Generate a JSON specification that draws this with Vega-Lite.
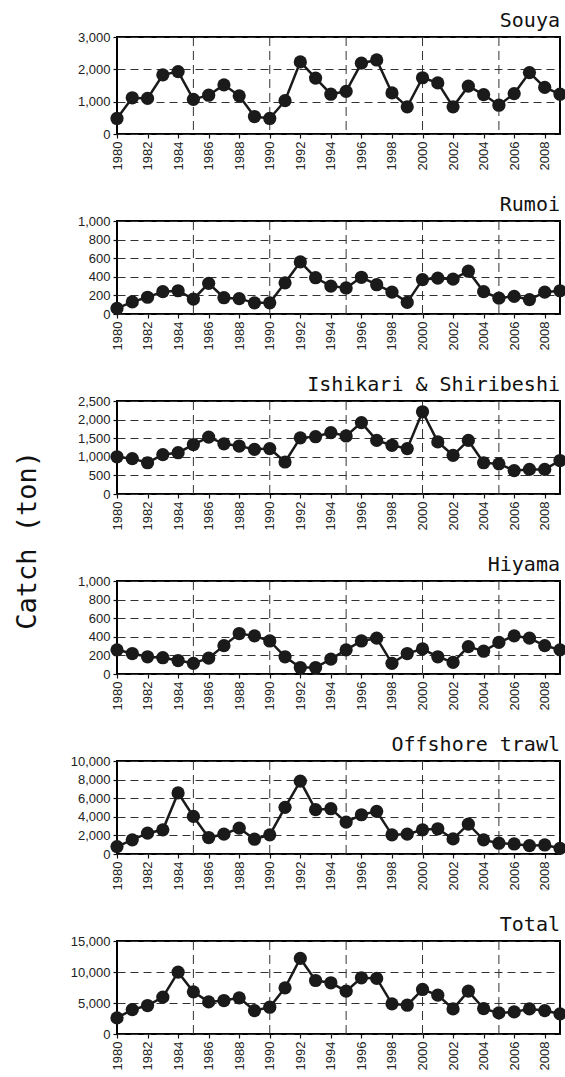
{
  "$schema": "https://vega.github.io/schema/vega-lite/v6.json",
  "padding": {"left": 14, "top": 10, "right": 4, "bottom": 4},
  "background": "white",
  "title": {"text": "Catch (ton)", "orient": "left", "anchor": "middle", "frame": "bounds", "font": "DejaVu Sans Mono", "fontSize": 27, "fontWeight": "normal", "color": "#111", "offset": 27},
  "config": {
    "view": {"stroke": "black", "strokeWidth": 2},
    "title": {"anchor": "end", "font": "DejaVu Sans Mono", "fontSize": 20, "fontWeight": "normal", "color": "#111"},
    "axis": {"labelFont": "Liberation Sans", "labelFontSize": 13, "labelColor": "#222", "domain": false, "tickColor": "#111", "tickSize": 4, "tickWidth": 1.2, "title": null, "gridColor": "#333", "gridDash": [8, 5], "gridWidth": 1, "labelPadding": 3},
    "line": {"color": "#1a1a1a", "strokeWidth": 2.5},
    "point": {"color": "#1a1a1a", "filled": true, "size": 175, "opacity": 1}
  },
  "datasets": {
    "vgrid": [{"year": 1985}, {"year": 1990}, {"year": 1995}, {"year": 2000}, {"year": 2005}],
    "catch": [
      {"region": "Souya", "year": 1980, "catch": 480}, {"region": "Souya", "year": 1981, "catch": 1120}, {"region": "Souya", "year": 1982, "catch": 1100}, {"region": "Souya", "year": 1983, "catch": 1830}, {"region": "Souya", "year": 1984, "catch": 1930}, {"region": "Souya", "year": 1985, "catch": 1070}, {"region": "Souya", "year": 1986, "catch": 1200}, {"region": "Souya", "year": 1987, "catch": 1520}, {"region": "Souya", "year": 1988, "catch": 1180}, {"region": "Souya", "year": 1989, "catch": 540}, {"region": "Souya", "year": 1990, "catch": 480}, {"region": "Souya", "year": 1991, "catch": 1030}, {"region": "Souya", "year": 1992, "catch": 2230}, {"region": "Souya", "year": 1993, "catch": 1730}, {"region": "Souya", "year": 1994, "catch": 1230}, {"region": "Souya", "year": 1995, "catch": 1320}, {"region": "Souya", "year": 1996, "catch": 2190}, {"region": "Souya", "year": 1997, "catch": 2290}, {"region": "Souya", "year": 1998, "catch": 1270}, {"region": "Souya", "year": 1999, "catch": 840}, {"region": "Souya", "year": 2000, "catch": 1740}, {"region": "Souya", "year": 2001, "catch": 1580}, {"region": "Souya", "year": 2002, "catch": 840}, {"region": "Souya", "year": 2003, "catch": 1480}, {"region": "Souya", "year": 2004, "catch": 1220}, {"region": "Souya", "year": 2005, "catch": 890}, {"region": "Souya", "year": 2006, "catch": 1250}, {"region": "Souya", "year": 2007, "catch": 1900}, {"region": "Souya", "year": 2008, "catch": 1440}, {"region": "Souya", "year": 2009, "catch": 1230},
      {"region": "Rumoi", "year": 1980, "catch": 60}, {"region": "Rumoi", "year": 1981, "catch": 130}, {"region": "Rumoi", "year": 1982, "catch": 180}, {"region": "Rumoi", "year": 1983, "catch": 240}, {"region": "Rumoi", "year": 1984, "catch": 250}, {"region": "Rumoi", "year": 1985, "catch": 160}, {"region": "Rumoi", "year": 1986, "catch": 330}, {"region": "Rumoi", "year": 1987, "catch": 175}, {"region": "Rumoi", "year": 1988, "catch": 165}, {"region": "Rumoi", "year": 1989, "catch": 120}, {"region": "Rumoi", "year": 1990, "catch": 120}, {"region": "Rumoi", "year": 1991, "catch": 335}, {"region": "Rumoi", "year": 1992, "catch": 560}, {"region": "Rumoi", "year": 1993, "catch": 390}, {"region": "Rumoi", "year": 1994, "catch": 300}, {"region": "Rumoi", "year": 1995, "catch": 280}, {"region": "Rumoi", "year": 1996, "catch": 395}, {"region": "Rumoi", "year": 1997, "catch": 315}, {"region": "Rumoi", "year": 1998, "catch": 235}, {"region": "Rumoi", "year": 1999, "catch": 125}, {"region": "Rumoi", "year": 2000, "catch": 370}, {"region": "Rumoi", "year": 2001, "catch": 385}, {"region": "Rumoi", "year": 2002, "catch": 375}, {"region": "Rumoi", "year": 2003, "catch": 460}, {"region": "Rumoi", "year": 2004, "catch": 240}, {"region": "Rumoi", "year": 2005, "catch": 170}, {"region": "Rumoi", "year": 2006, "catch": 190}, {"region": "Rumoi", "year": 2007, "catch": 155}, {"region": "Rumoi", "year": 2008, "catch": 235}, {"region": "Rumoi", "year": 2009, "catch": 250},
      {"region": "Ishikari & Shiribeshi", "year": 1980, "catch": 1000}, {"region": "Ishikari & Shiribeshi", "year": 1981, "catch": 950}, {"region": "Ishikari & Shiribeshi", "year": 1982, "catch": 840}, {"region": "Ishikari & Shiribeshi", "year": 1983, "catch": 1060}, {"region": "Ishikari & Shiribeshi", "year": 1984, "catch": 1110}, {"region": "Ishikari & Shiribeshi", "year": 1985, "catch": 1330}, {"region": "Ishikari & Shiribeshi", "year": 1986, "catch": 1530}, {"region": "Ishikari & Shiribeshi", "year": 1987, "catch": 1350}, {"region": "Ishikari & Shiribeshi", "year": 1988, "catch": 1290}, {"region": "Ishikari & Shiribeshi", "year": 1989, "catch": 1200}, {"region": "Ishikari & Shiribeshi", "year": 1990, "catch": 1220}, {"region": "Ishikari & Shiribeshi", "year": 1991, "catch": 860}, {"region": "Ishikari & Shiribeshi", "year": 1992, "catch": 1510}, {"region": "Ishikari & Shiribeshi", "year": 1993, "catch": 1540}, {"region": "Ishikari & Shiribeshi", "year": 1994, "catch": 1650}, {"region": "Ishikari & Shiribeshi", "year": 1995, "catch": 1560}, {"region": "Ishikari & Shiribeshi", "year": 1996, "catch": 1920}, {"region": "Ishikari & Shiribeshi", "year": 1997, "catch": 1440}, {"region": "Ishikari & Shiribeshi", "year": 1998, "catch": 1310}, {"region": "Ishikari & Shiribeshi", "year": 1999, "catch": 1220}, {"region": "Ishikari & Shiribeshi", "year": 2000, "catch": 2210}, {"region": "Ishikari & Shiribeshi", "year": 2001, "catch": 1400}, {"region": "Ishikari & Shiribeshi", "year": 2002, "catch": 1040}, {"region": "Ishikari & Shiribeshi", "year": 2003, "catch": 1440}, {"region": "Ishikari & Shiribeshi", "year": 2004, "catch": 840}, {"region": "Ishikari & Shiribeshi", "year": 2005, "catch": 810}, {"region": "Ishikari & Shiribeshi", "year": 2006, "catch": 630}, {"region": "Ishikari & Shiribeshi", "year": 2007, "catch": 660}, {"region": "Ishikari & Shiribeshi", "year": 2008, "catch": 660}, {"region": "Ishikari & Shiribeshi", "year": 2009, "catch": 900},
      {"region": "Hiyama", "year": 1980, "catch": 260}, {"region": "Hiyama", "year": 1981, "catch": 220}, {"region": "Hiyama", "year": 1982, "catch": 185}, {"region": "Hiyama", "year": 1983, "catch": 175}, {"region": "Hiyama", "year": 1984, "catch": 145}, {"region": "Hiyama", "year": 1985, "catch": 115}, {"region": "Hiyama", "year": 1986, "catch": 170}, {"region": "Hiyama", "year": 1987, "catch": 305}, {"region": "Hiyama", "year": 1988, "catch": 435}, {"region": "Hiyama", "year": 1989, "catch": 410}, {"region": "Hiyama", "year": 1990, "catch": 355}, {"region": "Hiyama", "year": 1991, "catch": 185}, {"region": "Hiyama", "year": 1992, "catch": 70}, {"region": "Hiyama", "year": 1993, "catch": 70}, {"region": "Hiyama", "year": 1994, "catch": 160}, {"region": "Hiyama", "year": 1995, "catch": 260}, {"region": "Hiyama", "year": 1996, "catch": 355}, {"region": "Hiyama", "year": 1997, "catch": 385}, {"region": "Hiyama", "year": 1998, "catch": 115}, {"region": "Hiyama", "year": 1999, "catch": 220}, {"region": "Hiyama", "year": 2000, "catch": 270}, {"region": "Hiyama", "year": 2001, "catch": 185}, {"region": "Hiyama", "year": 2002, "catch": 125}, {"region": "Hiyama", "year": 2003, "catch": 295}, {"region": "Hiyama", "year": 2004, "catch": 245}, {"region": "Hiyama", "year": 2005, "catch": 340}, {"region": "Hiyama", "year": 2006, "catch": 410}, {"region": "Hiyama", "year": 2007, "catch": 385}, {"region": "Hiyama", "year": 2008, "catch": 305}, {"region": "Hiyama", "year": 2009, "catch": 260},
      {"region": "Offshore trawl", "year": 1980, "catch": 800}, {"region": "Offshore trawl", "year": 1981, "catch": 1520}, {"region": "Offshore trawl", "year": 1982, "catch": 2240}, {"region": "Offshore trawl", "year": 1983, "catch": 2600}, {"region": "Offshore trawl", "year": 1984, "catch": 6570}, {"region": "Offshore trawl", "year": 1985, "catch": 4040}, {"region": "Offshore trawl", "year": 1986, "catch": 1770}, {"region": "Offshore trawl", "year": 1987, "catch": 2130}, {"region": "Offshore trawl", "year": 1988, "catch": 2780}, {"region": "Offshore trawl", "year": 1989, "catch": 1590}, {"region": "Offshore trawl", "year": 1990, "catch": 2060}, {"region": "Offshore trawl", "year": 1991, "catch": 5020}, {"region": "Offshore trawl", "year": 1992, "catch": 7830}, {"region": "Offshore trawl", "year": 1993, "catch": 4770}, {"region": "Offshore trawl", "year": 1994, "catch": 4870}, {"region": "Offshore trawl", "year": 1995, "catch": 3430}, {"region": "Offshore trawl", "year": 1996, "catch": 4220}, {"region": "Offshore trawl", "year": 1997, "catch": 4590}, {"region": "Offshore trawl", "year": 1998, "catch": 2060}, {"region": "Offshore trawl", "year": 1999, "catch": 2130}, {"region": "Offshore trawl", "year": 2000, "catch": 2600}, {"region": "Offshore trawl", "year": 2001, "catch": 2710}, {"region": "Offshore trawl", "year": 2002, "catch": 1620}, {"region": "Offshore trawl", "year": 2003, "catch": 3210}, {"region": "Offshore trawl", "year": 2004, "catch": 1520}, {"region": "Offshore trawl", "year": 2005, "catch": 1160}, {"region": "Offshore trawl", "year": 2006, "catch": 1080}, {"region": "Offshore trawl", "year": 2007, "catch": 900}, {"region": "Offshore trawl", "year": 2008, "catch": 970}, {"region": "Offshore trawl", "year": 2009, "catch": 610},
      {"region": "Total", "year": 1980, "catch": 2590}, {"region": "Total", "year": 1981, "catch": 3940}, {"region": "Total", "year": 1982, "catch": 4590}, {"region": "Total", "year": 1983, "catch": 5940}, {"region": "Total", "year": 1984, "catch": 9980}, {"region": "Total", "year": 1985, "catch": 6800}, {"region": "Total", "year": 1986, "catch": 5180}, {"region": "Total", "year": 1987, "catch": 5400}, {"region": "Total", "year": 1988, "catch": 5830}, {"region": "Total", "year": 1989, "catch": 3780}, {"region": "Total", "year": 1990, "catch": 4320}, {"region": "Total", "year": 1991, "catch": 7450}, {"region": "Total", "year": 1992, "catch": 12190}, {"region": "Total", "year": 1993, "catch": 8630}, {"region": "Total", "year": 1994, "catch": 8260}, {"region": "Total", "year": 1995, "catch": 6910}, {"region": "Total", "year": 1996, "catch": 9070}, {"region": "Total", "year": 1997, "catch": 8960}, {"region": "Total", "year": 1998, "catch": 4860}, {"region": "Total", "year": 1999, "catch": 4640}, {"region": "Total", "year": 2000, "catch": 7180}, {"region": "Total", "year": 2001, "catch": 6260}, {"region": "Total", "year": 2002, "catch": 4050}, {"region": "Total", "year": 2003, "catch": 6910}, {"region": "Total", "year": 2004, "catch": 4100}, {"region": "Total", "year": 2005, "catch": 3400}, {"region": "Total", "year": 2006, "catch": 3560}, {"region": "Total", "year": 2007, "catch": 4050}, {"region": "Total", "year": 2008, "catch": 3780}, {"region": "Total", "year": 2009, "catch": 3240}
    ]
  },
  "spacing": 23,
  "vconcat": [
    {
      "title": {"text": "Souya", "frame": "group", "offset": 0}, "width": 443, "height": 97,
      "encoding": {"x": {"field": "year", "type": "quantitative", "scale": {"domain": [1980, 2009], "nice": false, "zero": false}, "axis": {"values": [1980,1982,1984,1986,1988,1990,1992,1994,1996,1998,2000,2002,2004,2006,2008], "format": "d", "labelAngle": 270, "grid": false}}},
      "layer": [
        {"data": {"name": "vgrid"}, "mark": {"type": "rule", "strokeDash": [9, 5], "color": "#333", "strokeWidth": 1}},
        {"data": {"name": "catch"}, "transform": [{"filter": "datum.region === 'Souya'"}],
         "encoding": {"y": {"field": "catch", "type": "quantitative", "scale": {"domain": [0, 3000], "nice": false}, "axis": {"values": [0, 1000, 2000, 3000], "format": ",d", "grid": true}}},
         "layer": [{"mark": "line"}, {"mark": "point"}]}
      ]
    },
    {
      "title": {"text": "Rumoi", "frame": "group", "offset": 0}, "width": 443, "height": 93,
      "encoding": {"x": {"field": "year", "type": "quantitative", "scale": {"domain": [1980, 2009], "nice": false, "zero": false}, "axis": {"values": [1980,1982,1984,1986,1988,1990,1992,1994,1996,1998,2000,2002,2004,2006,2008], "format": "d", "labelAngle": 270, "grid": false}}},
      "layer": [
        {"data": {"name": "vgrid"}, "mark": {"type": "rule", "strokeDash": [9, 5], "color": "#333", "strokeWidth": 1}},
        {"data": {"name": "catch"}, "transform": [{"filter": "datum.region === 'Rumoi'"}],
         "encoding": {"y": {"field": "catch", "type": "quantitative", "scale": {"domain": [0, 1000], "nice": false}, "axis": {"values": [0, 200, 400, 600, 800, 1000], "format": ",d", "grid": true}}},
         "layer": [{"mark": "line"}, {"mark": "point"}]}
      ]
    },
    {
      "title": {"text": "Ishikari & Shiribeshi", "frame": "group", "offset": 0}, "width": 443, "height": 93,
      "encoding": {"x": {"field": "year", "type": "quantitative", "scale": {"domain": [1980, 2009], "nice": false, "zero": false}, "axis": {"values": [1980,1982,1984,1986,1988,1990,1992,1994,1996,1998,2000,2002,2004,2006,2008], "format": "d", "labelAngle": 270, "grid": false}}},
      "layer": [
        {"data": {"name": "vgrid"}, "mark": {"type": "rule", "strokeDash": [9, 5], "color": "#333", "strokeWidth": 1}},
        {"data": {"name": "catch"}, "transform": [{"filter": "datum.region === 'Ishikari & Shiribeshi'"}],
         "encoding": {"y": {"field": "catch", "type": "quantitative", "scale": {"domain": [0, 2500], "nice": false}, "axis": {"values": [0, 500, 1000, 1500, 2000, 2500], "format": ",d", "grid": true}}},
         "layer": [{"mark": "line"}, {"mark": "point"}]}
      ]
    },
    {
      "title": {"text": "Hiyama", "frame": "group", "offset": 0}, "width": 443, "height": 93,
      "encoding": {"x": {"field": "year", "type": "quantitative", "scale": {"domain": [1980, 2009], "nice": false, "zero": false}, "axis": {"values": [1980,1982,1984,1986,1988,1990,1992,1994,1996,1998,2000,2002,2004,2006,2008], "format": "d", "labelAngle": 270, "grid": false}}},
      "layer": [
        {"data": {"name": "vgrid"}, "mark": {"type": "rule", "strokeDash": [9, 5], "color": "#333", "strokeWidth": 1}},
        {"data": {"name": "catch"}, "transform": [{"filter": "datum.region === 'Hiyama'"}],
         "encoding": {"y": {"field": "catch", "type": "quantitative", "scale": {"domain": [0, 1000], "nice": false}, "axis": {"values": [0, 200, 400, 600, 800, 1000], "format": ",d", "grid": true}}},
         "layer": [{"mark": "line"}, {"mark": "point"}]}
      ]
    },
    {
      "title": {"text": "Offshore trawl", "frame": "group", "offset": 0}, "width": 443, "height": 93,
      "encoding": {"x": {"field": "year", "type": "quantitative", "scale": {"domain": [1980, 2009], "nice": false, "zero": false}, "axis": {"values": [1980,1982,1984,1986,1988,1990,1992,1994,1996,1998,2000,2002,2004,2006,2008], "format": "d", "labelAngle": 270, "grid": false}}},
      "layer": [
        {"data": {"name": "vgrid"}, "mark": {"type": "rule", "strokeDash": [9, 5], "color": "#333", "strokeWidth": 1}},
        {"data": {"name": "catch"}, "transform": [{"filter": "datum.region === 'Offshore trawl'"}],
         "encoding": {"y": {"field": "catch", "type": "quantitative", "scale": {"domain": [0, 10000], "nice": false}, "axis": {"values": [0, 2000, 4000, 6000, 8000, 10000], "format": ",d", "grid": true}}},
         "layer": [{"mark": "line"}, {"mark": "point"}]}
      ]
    },
    {
      "title": {"text": "Total", "frame": "group", "offset": 0}, "width": 443, "height": 93,
      "encoding": {"x": {"field": "year", "type": "quantitative", "scale": {"domain": [1980, 2009], "nice": false, "zero": false}, "axis": {"values": [1980,1982,1984,1986,1988,1990,1992,1994,1996,1998,2000,2002,2004,2006,2008], "format": "d", "labelAngle": 270, "grid": false}}},
      "layer": [
        {"data": {"name": "vgrid"}, "mark": {"type": "rule", "strokeDash": [9, 5], "color": "#333", "strokeWidth": 1}},
        {"data": {"name": "catch"}, "transform": [{"filter": "datum.region === 'Total'"}],
         "encoding": {"y": {"field": "catch", "type": "quantitative", "scale": {"domain": [0, 15000], "nice": false}, "axis": {"values": [0, 5000, 10000, 15000], "format": ",d", "grid": true}}},
         "layer": [{"mark": "line"}, {"mark": "point"}]}
      ]
    }
  ]
}
